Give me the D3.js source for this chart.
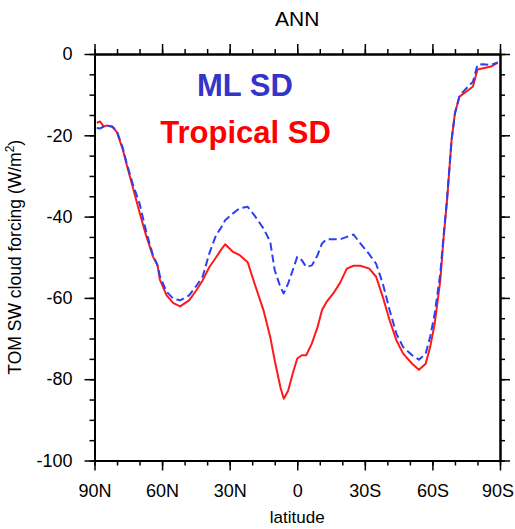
<!DOCTYPE html>
<html>
<head>
<meta charset="utf-8">
<script src="https://cdn.jsdelivr.net/npm/d3@7"></script>
<style>
  body { margin: 0; background: #fff; }
  text { font-family: "Liberation Sans", Arial, Helvetica, sans-serif; }
</style>
</head>
<body>
<div id="chart"></div>
<script>
let latitudes = [89, 87.5, 86, 84.5, 82, 80, 77.5, 75.5, 73, 70, 67, 64, 62, 61, 58, 55, 52, 48, 45, 42, 39, 36, 34, 32, 28.5, 25.5, 22, 19, 15, 12, 10, 7.5, 6, 4, 2, 0, -2, -4, -6.5, -9, -11, -13, -16, -19, -22, -25, -28, -32, -35, -38, -41, -44, -47, -51, -54, -57, -59, -61, -63.5, -65, -66.5, -68.5, -70, -72, -75, -78, -80, -82.5, -86, -89];

let tropicalSD = [-16.9, -16.6, -17.8, -17.6, -17.9, -19.3, -23.4, -27.7, -32.8, -39.0, -44.8, -49.9, -52.0, -55.5, -59.4, -61.3, -62.1, -60.6, -58.3, -55.7, -52.4, -50.0, -48.3, -46.8, -48.7, -49.5, -51.2, -56.4, -63.0, -69.6, -75.4, -81.9, -84.8, -82.8, -78.6, -74.9, -74.1, -74.1, -71.2, -67.2, -63.0, -61.0, -58.9, -56.3, -52.8, -52.1, -52.1, -52.8, -54.8, -59.8, -65.5, -70.4, -73.7, -76.2, -77.7, -76.2, -72.1, -66.4, -55.7, -45.0, -36.0, -21.2, -14.6, -10.5, -9.3, -8.0, -3.8, -3.5, -3.1, -2.1];

let mlSD = [-18.2, -18.3, -17.9, -17.6, -17.9, -19.1, -23.0, -27.3, -32.0, -36.8, -43.8, -49.6, -52.0, -54.6, -58.5, -60.2, -60.6, -59.4, -57.2, -54.8, -49.0, -44.5, -42.9, -40.9, -39.2, -37.9, -37.6, -39.7, -42.9, -46.2, -53.2, -57.3, -58.9, -56.4, -53.2, -49.9, -50.7, -52.4, -52.0, -49.5, -46.6, -45.6, -45.6, -45.6, -45.0, -44.4, -46.6, -49.3, -51.6, -56.5, -63.0, -68.8, -72.1, -74.1, -75.2, -73.7, -69.6, -63.9, -54.0, -44.5, -35.5, -21.2, -14.6, -10.3, -8.5, -6.8, -2.7, -2.5, -2.7, -2.1];

let xTicks = [90, 60, 30, 0, -30, -60, -90];
let xTickLabels = ["90N", "60N", "30N", "0", "30S", "60S", "90S"];
let yTicks = [0, -20, -40, -60, -80, -100];
let yTickLabels = ["0", "-20", "-40", "-60", "-80", "-100"];

let width = 515,
  height = 529;

let plotLeft = 94.5, plotRight = 500, plotTop = 54, plotBottom = 460.5;

let x = d3.scaleLinear().domain([90, -90]).range([plotLeft, plotRight]);
let y = d3.scaleLinear().domain([-100, 0]).range([plotBottom, plotTop]);

let svg = d3.select("#chart")
  .append("svg")
  .attr("width", width)
  .attr("height", height);

/* Minor ticks */
let xMinor = d3.range(90, -91, -10);
let yMinor = d3.range(0, -101, -5);

function styleAxis(g) {
  g.select(".domain").attr("stroke", "#000").attr("stroke-width", 2);
  g.selectAll(".tick line").attr("stroke", "#000").attr("stroke-width", 1.5);
}

svg.append("g").attr("transform", "translate(0," + plotBottom + ")")
  .call(d3.axisBottom(x).tickValues(xMinor).tickSize(5).tickSizeOuter(0).tickFormat(""))
  .call(styleAxis);
svg.append("g").attr("transform", "translate(0," + plotTop + ")")
  .call(d3.axisTop(x).tickValues(xMinor).tickSize(5).tickSizeOuter(0).tickFormat(""))
  .call(styleAxis);
svg.append("g").attr("transform", "translate(" + plotLeft + ",0)")
  .call(d3.axisLeft(y).tickValues(yMinor).tickSize(5).tickSizeOuter(0).tickFormat(""))
  .call(styleAxis);
svg.append("g").attr("transform", "translate(" + plotRight + ",0)")
  .call(d3.axisRight(y).tickValues(yMinor).tickSize(5).tickSizeOuter(0).tickFormat(""))
  .call(styleAxis);

/* Major ticks */
let xBottom = svg.append("g").attr("transform", "translate(0," + plotBottom + ")")
  .call(d3.axisBottom(x).tickValues(xTicks).tickSize(10).tickSizeOuter(0).tickPadding(14)
    .tickFormat(function(d, i) { return xTickLabels[i]; }))
  .call(styleAxis);
svg.append("g").attr("transform", "translate(0," + plotTop + ")")
  .call(d3.axisTop(x).tickValues(xTicks).tickSize(10).tickSizeOuter(0).tickFormat(""))
  .call(styleAxis);
let yLeft = svg.append("g").attr("transform", "translate(" + plotLeft + ",0)")
  .call(d3.axisLeft(y).tickValues(yTicks).tickSize(10).tickSizeOuter(0).tickPadding(12)
    .tickFormat(function(d, i) { return yTickLabels[i]; }))
  .call(styleAxis);
svg.append("g").attr("transform", "translate(" + plotRight + ",0)")
  .call(d3.axisRight(y).tickValues(yTicks).tickSize(10).tickSizeOuter(0).tickFormat(""))
  .call(styleAxis);

xBottom.selectAll("text").attr("font-size", 18).attr("font-family", null).attr("fill", "#000");
yLeft.selectAll("text").attr("font-size", 18).attr("font-family", null).attr("fill", "#000");

// last label sits on the window edge, nudge it in a bit
xBottom.selectAll(".tick:last-of-type text").attr("dx", -2.5);

/* Curves */
let line = d3.line()
  .x(function(d) { return x(d[0]); })
  .y(function(d) { return y(d[1]); });

svg.append("path")
  .datum(latitudes.map(function(d, i) { return [d, tropicalSD[i]]; }))
  .attr("fill", "none")
  .attr("stroke", "#ff1a1a")
  .attr("stroke-width", 2)
  .attr("stroke-linejoin", "round")
  .attr("d", line);

svg.append("path")
  .datum(latitudes.map(function(d, i) { return [d, mlSD[i]]; }))
  .attr("fill", "none")
  .attr("stroke", "#2e3ff0")
  .attr("stroke-width", 2)
  .attr("stroke-dasharray", "8,4")
  .attr("stroke-linejoin", "round")
  .attr("d", line);

/* Texts */
svg.append("text")
  .attr("x", (plotLeft + plotRight) / 2)
  .attr("y", 26)
  .attr("text-anchor", "middle")
  .attr("font-size", 21)
  .text("ANN");

svg.append("text")
  .attr("x", (plotLeft + plotRight) / 2)
  .attr("y", 523)
  .attr("text-anchor", "middle")
  .attr("font-size", 17)
  .text("latitude");

let yTitle = svg.append("text")
  .attr("transform", "translate(21," + (plotTop + plotBottom) / 2 + ") rotate(-90)")
  .attr("text-anchor", "middle")
  .attr("font-size", 17.5);
yTitle.append("tspan").text("TOM SW cloud forcing (W/m");
yTitle.append("tspan").attr("font-size", 12).attr("dy", -7).text("2");
yTitle.append("tspan").attr("dy", 7).text(")");

svg.append("text")
  .attr("x", 245)
  .attr("y", 96)
  .attr("text-anchor", "middle")
  .attr("font-size", 31)
  .attr("font-weight", "bold")
  .attr("fill", "#3434c8")
  .text("ML SD");

svg.append("text")
  .attr("x", 245.5)
  .attr("y", 143)
  .attr("text-anchor", "middle")
  .attr("font-size", 31)
  .attr("font-weight", "bold")
  .attr("fill", "#ff0000")
  .text("Tropical SD");
</script>
</body>
</html>
